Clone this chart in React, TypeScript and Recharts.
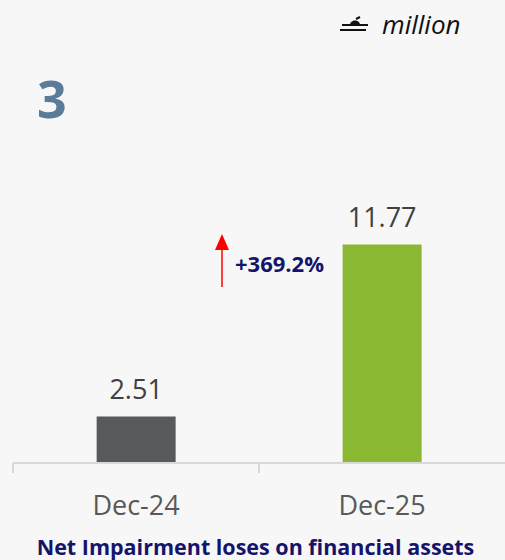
import { Bar, BarChart, Cell, LabelList, XAxis, YAxis } from "recharts";

const periods = ["Dec-24", "Dec-25"];
const impairment = [2.51, 11.77];
const barColors = ["#58595B", "#8AB833"];
const changeLabel = "+369.2%";
const pageNo = "3";
const unitLabel = "million";
const chartTitle = "Net Impairment loses on financial assets";

const data = periods.map((p, i) => ({ period: p, value: impairment[i] }));

const FONT = "'Open Sans', sans-serif";
const NAVY = "#14146B";

// category tick: label under the axis plus a small boundary tick at the band's left edge
function PeriodTick(props: any) {
  const { x, y, payload, width } = props;
  const band = width / periods.length;
  const left = x - band / 2;
  return (
    <g>
      <line x1={left} y1={y - 8} x2={left} y2={y + 2} stroke="#d9d9d9" strokeWidth={2} />
      <text
        x={x}
        y={y + 44}
        textAnchor="middle"
        fontFamily={FONT}
        fontSize={27}
        fill="#595959"
      >
        {payload.value}
      </text>
    </g>
  );
}

export default function App() {
  return (
    <div
      style={{
        position: "absolute",
        left: 0,
        top: 0,
        width: 505,
        height: 560,
        background: "#F7F7F7",
        fontFamily: FONT,
        overflow: "hidden",
      }}
    >
      <BarChart
        width={505}
        height={560}
        data={data}
        margin={{ top: 203, right: 0, left: 13, bottom: 0 }}
        barCategoryGap="34%"
      >
        <YAxis hide domain={[0, 14]} />
        <XAxis
          dataKey="period"
          height={97}
          axisLine={{ stroke: "#d9d9d9", strokeWidth: 2 }}
          tickLine={false}
          tick={<PeriodTick />}
          interval={0}
        />
        <Bar dataKey="value" isAnimationActive={false}>
          {data.map((d, i) => (
            <Cell key={d.period} fill={barColors[i]} />
          ))}
          <LabelList
            dataKey="value"
            position="top"
            offset={17}
            fontFamily={FONT}
            fontSize={27}
            fill="#404040"
            formatter={(v: any) => Number(v).toFixed(2)}
          />
        </Bar>
      </BarChart>

      {/* page number */}
      <div
        style={{
          position: "absolute",
          left: 37,
          top: 67,
          fontSize: 52,
          fontWeight: 700,
          color: "#5B7C99",
          lineHeight: 1.2,
        }}
      >
        {pageNo}
      </div>

      {/* currency unit */}
      <svg
        width={40}
        height={30}
        style={{ position: "absolute", left: 338, top: 13 }}
      >
        <path d="M4 12 L30 12" stroke="#111" strokeWidth={2} />
        <path d="M2 17 L28 17" stroke="#111" strokeWidth={2} />
        <path d="M12 12 C12 6 22 6 22 12 Z" fill="#111" />
        <path d="M18 6 L22 4" stroke="#111" strokeWidth={2} />
      </svg>
      <div
        style={{
          position: "absolute",
          left: 382,
          top: 9,
          fontSize: 26,
          fontStyle: "italic",
          color: "#111",
          lineHeight: 1.2,
        }}
      >
        {unitLabel}
      </div>

      {/* growth arrow */}
      <svg
        width={20}
        height={60}
        style={{ position: "absolute", left: 212, top: 232 }}
      >
        <line x1={10} y1={16} x2={10} y2={55} stroke="#FF0000" strokeWidth={1.5} />
        <polygon points="10,2 3,18 17,18" fill="#FF0000" />
      </svg>
      <div
        style={{
          position: "absolute",
          left: 235,
          top: 250,
          fontSize: 22,
          fontWeight: 700,
          color: NAVY,
          lineHeight: 1.2,
        }}
      >
        {changeLabel}
      </div>

      {/* title */}
      <div
        style={{
          position: "absolute",
          left: 0,
          width: 511,
          top: 536,
          textAlign: "center",
          fontSize: 21.5,
          fontWeight: 700,
          color: NAVY,
          lineHeight: 1,
          whiteSpace: "nowrap",
        }}
      >
        {chartTitle}
      </div>
    </div>
  );
}
